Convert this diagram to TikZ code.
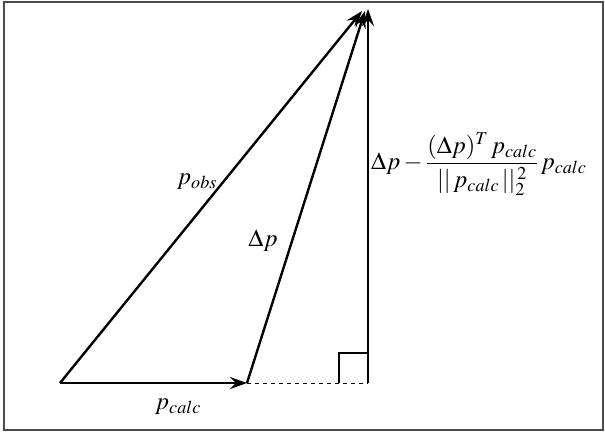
\documentclass[tikz,border=0pt]{standalone}
\usepackage{mathptmx}
\usetikzlibrary{arrows.meta}
\begin{document}
\begin{tikzpicture}[x=1pt,y=-1pt,
  vec/.style={line width=2.4pt,-{Stealth[length=17pt,width=12pt,inset=6pt]}},
  lbl/.style={font=\fontsize{24.5}{28}\selectfont,inner sep=0pt}]
\useasboundingbox (0,0) rectangle (605,432);
\draw[line width=1.5pt,black!70] (4,2) rectangle (603,430);
\coordinate (A) at (60,383);
\coordinate (B) at (247,383);
\coordinate (D) at (368,383);
\coordinate (C1) at (362,11);
\coordinate (C2) at (365,11);
\coordinate (C3) at (368,9);
\draw[vec] (A) -- (B);
\draw[vec] (A) -- (C1);
\draw[vec] (B) -- (C2);
\draw[vec] (D) -- (C3);
\draw[line width=1pt,dash pattern=on 4pt off 4pt] (B) -- (D);
\coordinate (S1) at (339,383);
\coordinate (S2) at (339,353);
\coordinate (S3) at (368,353);
\draw[line width=1.1pt] (S1) -- (S2) -- (S3);
\node[lbl] (pobs) at (197,182) {$p_{obs}$};
\node[lbl] (dp) at (263,241) {$\Delta p$};
\node[lbl] (pcalc) at (178,407) {$p_{calc}$};
\node[lbl,anchor=west] (f) at (371,164) {$\displaystyle\Delta p-\frac{(\Delta p)^{T}\,p_{calc}}{||\,p_{calc}\,||_2^{\,2}}\,p_{calc}$};
\end{tikzpicture}
\end{document}
